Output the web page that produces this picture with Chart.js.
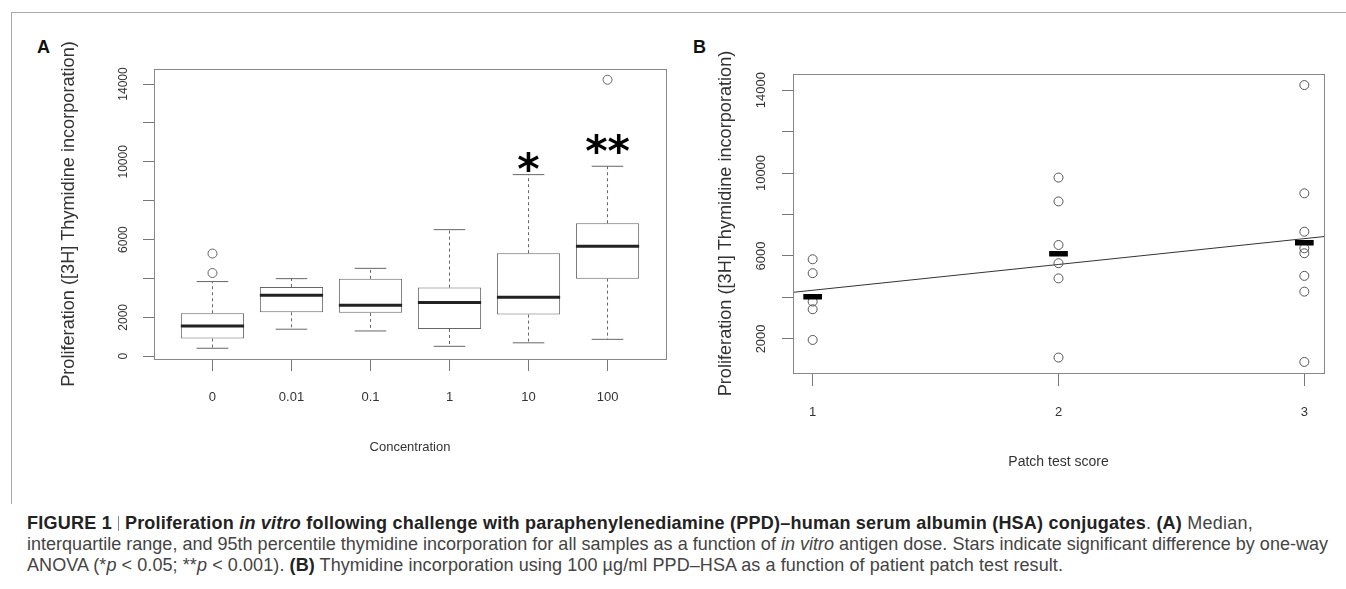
<!DOCTYPE html>
<html>
<head>
<meta charset="utf-8">
<script src="https://cdn.jsdelivr.net/npm/chart.js@4.4.1/dist/chart.umd.min.js"></script>
<style>
  body { margin: 0; background: #fff; width: 1346px; height: 589px; overflow: hidden; position: relative; font-family: "Liberation Sans", Arial, sans-serif; }
  #frame { position: absolute; left: 11px; top: 12px; width: 1340px; height: 491px; border-left: 1px solid #aaa; border-top: 1px solid #aaa; }
  .panel { position: absolute; font-weight: bold; font-size: 18px; color: #111; line-height: 18px; }
  canvas { position: absolute; top: 0; }
  #cap { position: absolute; left: 27px; top: 513px; font-size: 15px; line-height: 21px; color: #444; }
  #cap div { white-space: nowrap; display: inline-block; }
  #cap b { color: #222; }
  .sep { display: inline-block; width: 1px; height: 15px; background: #888; vertical-align: -2px; margin: 0 6px; }
</style>
</head>
<body>
<div id="frame"></div>
<div class="panel" style="left:37px;top:38px">A</div>
<div class="panel" style="left:693px;top:38px">B</div>
<canvas id="chartA" width="680" height="480" style="left:0"></canvas>
<canvas id="chartB" width="666" height="480" style="left:680px"></canvas>
<div id="cap">
  <div class="cl" data-w="1226"><b>FIGURE 1</b><span class="sep"></span><b>Proliferation <i>in vitro</i> following challenge with paraphenylenediamine (PPD)–human serum albumin (HSA) conjugates</b>. <b>(A)</b> Median,</div><br>
  <div class="cl" id="capLine2" data-w="1301">interquartile range, and 95th percentile thymidine incorporation for all samples as a function of <i>in vitro</i> antigen dose. Stars indicate significant difference by one-way</div><br>
  <div class="cl" data-w="1036">ANOVA (*<i>p</i> &lt; 0.05; **<i>p</i> &lt; 0.001). <b>(B)</b> Thymidine incorporation using 100 µg/ml PPD–HSA as a function of patient patch test result.</div>
</div>
<script>
// panel A: box plot per concentration
const concentrations = ["0", "0.01", "0.1", "1", "10", "100"];
const lowerWhisker = [410, 1390, 1300, 510, 690, 870];
const q1 = [910, 2260, 2230, 1400, 2140, 3990];
const median = [1560, 3140, 2620, 2760, 3030, 5660];
const q3 = [2210, 3560, 3980, 3530, 5300, 6840];
const upperWhisker = [3840, 3990, 4520, 6510, 9340, 9770];
const outliers = [[4280, 5280], [], [], [], [], [14220]];
const stars = ["", "", "", "", "*", "**"];
const starValues = [null, null, null, null, 9990, 10940];

// panel B: values per patch test score
const patchScores = [1, 2, 3];
const score1 = [5840, 5170, 3800, 3430, 1950];
const score2 = [9780, 8630, 6530, 5650, 4920, 1100];
const score3 = [14240, 9020, 7170, 6370, 6130, 5040, 4280, 890];

const yTicks = [0, 2000, 4000, 6000, 8000, 10000, 12000, 14000];
const yLabelsA = [0, 2000, 6000, 10000, 14000];
const yLabelsB = [2000, 6000, 10000, 14000];

const FONT = "'Liberation Sans', Arial, sans-serif";
const GRAY = "#777";
const TXT = "#333";

// R style axis range: data range extended by 4%
function extRange(lo, hi) {
  const d = (hi - lo) * 0.04;
  return [lo - d, hi + d];
}

// fit a font size so a text has the wanted length
function fitSize(text, target, family) {
  const c = document.createElement("canvas").getContext("2d");
  c.font = "100px " + family;
  return 100 * target / c.measureText(text).width;
}

const boxFrame = {
  id: "boxFrame",
  afterDraw(chart) {
    const a = chart.chartArea, ctx = chart.ctx;
    ctx.save();
    ctx.strokeStyle = "#888";
    ctx.lineWidth = 1;
    ctx.strokeRect(Math.round(a.left) + 0.5, Math.round(a.top) + 0.5, Math.round(a.right - a.left), Math.round(a.bottom - a.top));
    ctx.restore();
  }
};

const starPlugin = {
  id: "stars",
  afterDatasetsDraw(chart) {
    const ctx = chart.ctx, xs = chart.scales.x, ys = chart.scales.y;
    ctx.save();
    ctx.font = "bold 100px 'DejaVu Sans'";
    let m = ctx.measureText("*");
    const size = 100 * 21 / (m.actualBoundingBoxRight + m.actualBoundingBoxLeft);
    ctx.font = "bold " + size + "px 'DejaVu Sans'";
    ctx.fillStyle = "#000";
    ctx.textAlign = "center";
    ctx.textBaseline = "alphabetic";
    stars.forEach((s, i) => {
      if (!s) return;
      const mm = ctx.measureText(s);
      const cy = ys.getPixelForValue(starValues[i]);
      const base = cy + (mm.actualBoundingBoxAscent - mm.actualBoundingBoxDescent) / 2;
      ctx.fillText(s, xs.getPixelForValue(i + 1), base);
    });
    ctx.restore();
  }
};

function segs(centers, half, lo, hi) {
  const out = [];
  centers.forEach((c, i) => {
    out.push({x: c - half, y: lo[i]}, {x: c + half, y: hi[i]}, {x: c, y: null});
  });
  return out;
}

const yTitle = "Proliferation ([3H] Thymidine incorporation)";
const titleSize = fitSize(yTitle, 346, FONT);

// ---------- panel A ----------
const idx = concentrations.map((c, i) => i + 1);
const allA = lowerWhisker.concat(upperWhisker, outliers.flat());
const rangeA = extRange(Math.min(...allA), Math.max(...allA));
const xRangeA = extRange(0.5, concentrations.length + 0.5);

const whiskers = [];
idx.forEach((c, i) => {
  whiskers.push({x: c, y: q3[i]}, {x: c, y: upperWhisker[i]}, {x: c, y: null});
  whiskers.push({x: c, y: q1[i]}, {x: c, y: lowerWhisker[i]}, {x: c, y: null});
});
const caps = segs(idx, 0.2, upperWhisker, upperWhisker).concat(segs(idx, 0.2, lowerWhisker, lowerWhisker));
const outPts = [];
outliers.forEach((arr, i) => arr.forEach(v => outPts.push({x: i + 1, y: v})));

new Chart(document.getElementById("chartA"), {
  type: "scatter",
  data: {
    datasets: [
      {
        type: "bar",
        data: idx.map((c, i) => ({x: c, y: [q1[i], q3[i]]})),
        backgroundColor: "#fff",
        borderColor: "#666",
        borderWidth: 1,
        borderSkipped: false,
        barPercentage: 0.8,
        categoryPercentage: 1,
        grouped: false,
        order: 5
      },
      {
        type: "line",
        data: whiskers,
        borderColor: "#666",
        borderWidth: 1,
        borderDash: [3, 3],
        pointRadius: 0,
        spanGaps: false,
        order: 4
      },
      {
        type: "line",
        data: caps,
        borderColor: "#666",
        borderWidth: 1,
        pointRadius: 0,
        spanGaps: false,
        order: 3
      },
      {
        type: "line",
        data: segs(idx, 0.4, median, median),
        borderColor: "#222",
        borderWidth: 3,
        borderCapStyle: "butt",
        pointRadius: 0,
        spanGaps: false,
        order: 1
      },
      {
        type: "scatter",
        data: outPts,
        pointStyle: "circle",
        pointRadius: 4.5,
        borderColor: "#666",
        backgroundColor: "rgba(0,0,0,0)",
        borderWidth: 1,
        order: 2
      }
    ]
  },
  options: {
    responsive: false,
    animation: false,
    events: [],
    layout: {padding: {left: 0, top: 69, right: 14, bottom: 0}},
    plugins: {legend: {display: false}, tooltip: {enabled: false}},
    scales: {
      x: {
        type: "linear",
        offset: false,
        min: xRangeA[0],
        max: xRangeA[1],
        afterFit: axis => { axis.height = 121; },
        afterBuildTicks: axis => { axis.ticks = idx.map(v => ({value: v})); },
        grid: {offset: false, drawOnChartArea: false, drawTicks: true, tickLength: 12, color: GRAY},
        border: {display: false},
        ticks: {
          autoSkip: false,
          maxRotation: 0,
          padding: 19,
          color: TXT,
          font: {family: FONT, size: 13},
          callback: v => concentrations[v - 1]
        },
        title: {display: true, text: "Concentration", color: TXT, font: {family: FONT, size: 13}, padding: {top: 0, bottom: 25}}
      },
      y: {
        min: rangeA[0],
        max: rangeA[1],
        afterFit: axis => { axis.width = 154; },
        afterBuildTicks: axis => { axis.ticks = yTicks.map(v => ({value: v})); },
        grid: {drawOnChartArea: false, drawTicks: true, tickLength: 11, color: GRAY},
        border: {display: false},
        ticks: {
          autoSkip: false,
          minRotation: 90,
          maxRotation: 90,
          crossAlign: "center",
          padding: 3,
          color: TXT,
          font: {family: FONT, size: 12},
          callback: v => yLabelsA.includes(v) ? String(v) : ""
        },
        title: {display: true, text: yTitle, color: TXT, font: {family: FONT, size: titleSize}, padding: {top: 69 - titleSize * 0.6, bottom: 0}}
      }
    }
  },
  plugins: [boxFrame, starPlugin]
});

// ---------- panel B ----------
const groups = [score1, score2, score3];
const pts = [];
groups.forEach((g, i) => g.forEach(v => pts.push({x: patchScores[i], y: v})));
const means = groups.map(g => g.reduce((a, b) => a + b, 0) / g.length);

// least squares line through all points
const n = pts.length;
const mx = pts.reduce((a, p) => a + p.x, 0) / n;
const my = pts.reduce((a, p) => a + p.y, 0) / n;
let sxy = 0, sxx = 0;
pts.forEach(p => { sxy += (p.x - mx) * (p.y - my); sxx += (p.x - mx) * (p.x - mx); });
const slope = sxy / sxx;
const intercept = my - slope * mx;

const allB = pts.map(p => p.y);
const rangeB = extRange(Math.min(...allB), Math.max(...allB));
const xRangeB = extRange(patchScores[0], patchScores[patchScores.length - 1]);
const fitLine = [xRangeB[0] - 1, xRangeB[1] + 1].map(x => ({x: x, y: intercept + slope * x}));

new Chart(document.getElementById("chartB"), {
  type: "scatter",
  data: {
    datasets: [
      {
        type: "line",
        data: fitLine,
        borderColor: "#333",
        borderWidth: 1,
        pointRadius: 0,
        order: 3
      },
      {
        type: "scatter",
        data: pts,
        pointStyle: "circle",
        pointRadius: 4.5,
        borderColor: "#555",
        backgroundColor: "rgba(0,0,0,0)",
        borderWidth: 1,
        order: 2
      },
      {
        type: "line",
        data: segs(patchScores, 0.038, means, means),
        borderColor: "#000",
        borderWidth: 5.5,
        borderCapStyle: "butt",
        pointRadius: 0,
        spanGaps: false,
        order: 1
      }
    ]
  },
  options: {
    responsive: false,
    animation: false,
    events: [],
    layout: {padding: {left: 0, top: 74, right: 22, bottom: 0}},
    plugins: {legend: {display: false}, tooltip: {enabled: false}},
    scales: {
      x: {
        type: "linear",
        offset: false,
        min: xRangeB[0],
        max: xRangeB[1],
        afterFit: axis => { axis.height = 107; },
        afterBuildTicks: axis => { axis.ticks = patchScores.map(v => ({value: v})); },
        grid: {offset: false, drawOnChartArea: false, drawTicks: true, tickLength: 13, color: GRAY},
        border: {display: false},
        ticks: {
          autoSkip: false,
          maxRotation: 0,
          padding: 19,
          color: TXT,
          font: {family: FONT, size: 13},
          callback: v => String(v)
        },
        title: {display: true, text: "Patch test score", color: TXT, font: {family: FONT, size: 14}, padding: {top: 0, bottom: 9}}
      },
      y: {
        min: rangeB[0],
        max: rangeB[1],
        afterFit: axis => { axis.width = 113; },
        afterBuildTicks: axis => { axis.ticks = yTicks.filter(v => v > 0).map(v => ({value: v})); },
        grid: {drawOnChartArea: false, drawTicks: true, tickLength: 11, color: GRAY},
        border: {display: false},
        ticks: {
          autoSkip: false,
          minRotation: 90,
          maxRotation: 90,
          crossAlign: "center",
          padding: 3,
          color: TXT,
          font: {family: FONT, size: 13},
          callback: v => yLabelsB.includes(v) ? String(v) : ""
        },
        title: {display: true, text: yTitle, color: TXT, font: {family: FONT, size: titleSize}, padding: {top: 46 - titleSize * 0.6, bottom: 0}}
      }
    }
  },
  plugins: [boxFrame]
});

// caption: font size from line 2, then small letter spacing so each line ends where the reference does
const cap = document.getElementById("cap");
const w2 = document.getElementById("capLine2").getBoundingClientRect().width;
cap.style.fontSize = (15 * 1301 / w2) + "px";
document.querySelectorAll("#cap .cl").forEach(el => {
  const target = Number(el.dataset.w);
  const w = el.getBoundingClientRect().width;
  const chars = el.textContent.length;
  el.style.letterSpacing = ((target - w) / chars) + "px";
});
</script>
</body>
</html>
